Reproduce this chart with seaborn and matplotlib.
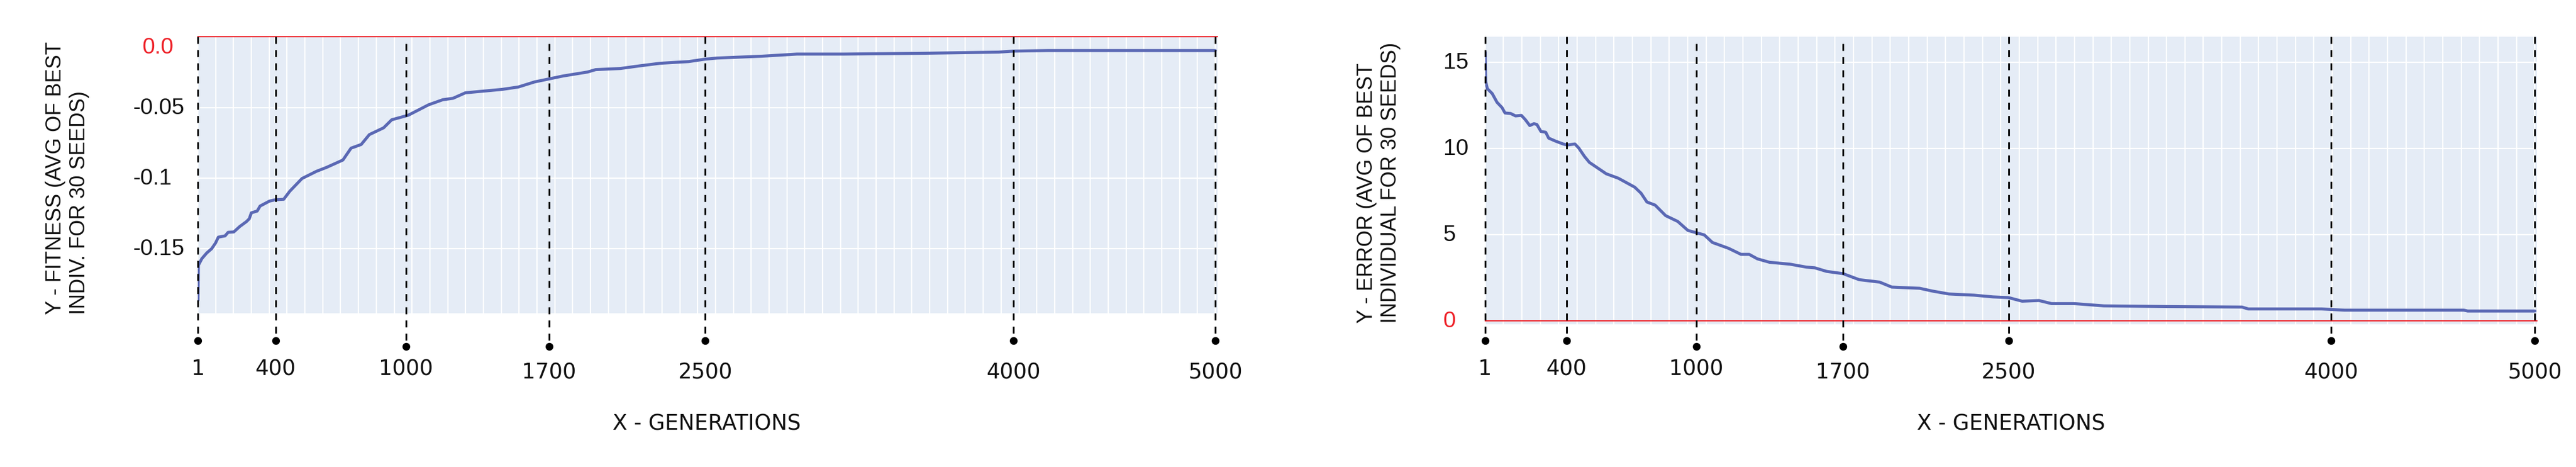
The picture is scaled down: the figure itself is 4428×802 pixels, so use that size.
import numpy as np
import pandas as pd
import matplotlib
matplotlib.use("Agg")
import matplotlib.pyplot as plt
import matplotlib.transforms as mtrans
import seaborn as sns

# ---------------- data ----------------
fit_gen = [1, 3, 20, 44, 68, 87, 101, 134, 149, 177, 206, 239, 253, 263, 292, 306,
           352, 382, 422, 452, 512, 583, 633, 713, 753, 803, 843, 913, 953, 1034,
           1134, 1204, 1254, 1315, 1495, 1575, 1655, 1725, 1795, 1915, 1955, 2076,
           2173, 2272, 2412, 2492, 2552, 2772, 2944, 3175, 3575, 3935, 4007, 4177, 5000]
fit_val = [-0.1865, -0.1617, -0.157, -0.153, -0.150, -0.146, -0.1418, -0.1409, -0.1384,
           -0.1381, -0.1343, -0.1308, -0.1288, -0.1246, -0.1233, -0.1198, -0.1163,
           -0.1153, -0.1150, -0.1093, -0.1003, -0.0952, -0.0924, -0.0872, -0.0788,
           -0.0762, -0.0692, -0.0644, -0.0587, -0.0555, -0.0481, -0.0445, -0.0435,
           -0.0396, -0.0372, -0.0355, -0.0319, -0.0298, -0.0277, -0.0249, -0.0232,
           -0.0224, -0.0205, -0.0187, -0.0175, -0.0158, -0.0150, -0.0137, -0.0122,
           -0.0122, -0.0116, -0.0108, -0.0101, -0.0097, -0.0097]

err_gen = [1, 3, 11, 34, 57, 81, 95, 122, 145, 173, 192, 213, 233, 247, 266, 289, 303,
           335, 372, 391, 428, 446, 474, 497, 577, 635, 713, 743, 771, 810, 860, 918,
           966, 1044, 1083, 1160, 1219, 1258, 1297, 1355, 1452, 1530, 1570, 1627, 1705,
           1782, 1879, 1937, 2070, 2130, 2209, 2329, 2419, 2493, 2558, 2638, 2698, 2807,
           2947, 3246, 3605, 3635, 3984, 4093, 4661, 4680, 5000]
err_val = [15.6, 13.9, 13.47, 13.19, 12.68, 12.37, 12.06, 12.03, 11.89, 11.92, 11.67,
           11.33, 11.44, 11.39, 10.99, 10.94, 10.60, 10.43, 10.26, 10.20, 10.26, 10.03,
           9.53, 9.19, 8.53, 8.27, 7.75, 7.40, 6.89, 6.71, 6.10, 5.76, 5.24, 4.98, 4.54,
           4.20, 3.85, 3.85, 3.59, 3.39, 3.28, 3.11, 3.07, 2.86, 2.73, 2.38, 2.24, 1.95,
           1.88, 1.72, 1.55, 1.48, 1.38, 1.34, 1.13, 1.17, 0.99, 0.99, 0.86, 0.82, 0.79,
           0.68, 0.68, 0.61, 0.61, 0.56, 0.56]

gen_labels = ["1", "400", "1000", "1700", "2500", "4000", "5000"]
fit_marker_gen = [1, 382, 1022, 1726, 2492, 4009, 5000]
err_marker_gen = [1, 388, 1007, 1705, 2493, 4028, 5000]

fit_yticks = [-0.05, -0.1, -0.15]
fit_ytick_labels = ["-0.05", "-0.1", "-0.15"]
fit_target, fit_target_label = 0.0, "0.0"
err_yticks = [5, 10, 15]
err_ytick_labels = ["5", "10", "15"]
err_target, err_target_label = 0, "0"

x_title = "X - GENERATIONS"
fit_y_title = "Y - FITNESS (AVG OF BEST\nINDIV. FOR 30 SEEDS)"
err_y_title = "Y - ERROR (AVG OF BEST\nINDIVIDUAL FOR 30 SEEDS)"

# ---------------- styling ----------------
W, H = 4428, 803
BG = "#e5ecf6"
LINE = "#5a68b4"
RED = "#ee2229"
TXT = "#111111"
ARIAL = ["Liberation Sans", "DejaVu Sans"]

sns.set_style("white")
plt.rcParams["font.family"] = ["DejaVu Sans"]

fig = plt.figure(figsize=(W / 100, H / 100), dpi=100)
fig.patch.set_facecolor("white")


def fy(px):
    return 1 - px / H


def fx(px):
    return px / W


def make_axes(x0, x1, y0, y1):
    return fig.add_axes([fx(x0), fy(y1), fx(x1) - fx(x0), (y1 - y0) / H])


ax1 = make_axes(340, 2092.6, 64.3, 539)
ax2 = make_axes(2552.7, 4361, 64.3, 557.7)

grid_x = np.arange(0, 5001, 5000 / 57)

panels = [
    dict(ax=ax1, gen=fit_gen, val=fit_val, ylim=(-0.1957, 0.0), yt=fit_yticks,
         ytl=fit_ytick_labels, target=fit_target, tlabel=fit_target_label,
         mgen=fit_marker_gen, lab_x=228, zero_x=245, ytitle=fit_y_title,
         ytitle_x=116, ytitle_y=540, xtitle_x=1215, zero_va="top"),
    dict(ax=ax2, gen=err_gen, val=err_val, ylim=(-0.203, 16.48), yt=err_yticks,
         ytl=err_ytick_labels, target=err_target, tlabel=err_target_label,
         mgen=err_marker_gen, lab_x=2480.6, zero_x=2480.6, ytitle=err_y_title,
         ytitle_x=2370, ytitle_y=555.5, xtitle_x=3457, zero_va="center"),
]

for p in panels:
    ax = p["ax"]
    ax.set_facecolor(BG)
    df = pd.DataFrame({"gen": p["gen"], "val": p["val"]})
    sns.lineplot(data=df, x="gen", y="val", ax=ax, color=LINE, lw=3.7,
                 estimator=None, sort=False, zorder=3)
    ax.set_xlim(1, 5010)
    ax.set_ylim(*p["ylim"])
    ax.set_xticks(grid_x)
    ax.set_yticks(p["yt"])
    ax.grid(True, axis="both", color="white", lw=1.6, zorder=0)
    ax.set_axisbelow(True)
    ax.tick_params(length=0, labelbottom=False, labelleft=False)
    for s in ax.spines.values():
        s.set_visible(False)
    ax.set_xlabel("")
    ax.set_ylabel("")

    # red target line
    ax.axhline(p["target"], color=RED, lw=1.5, zorder=4, clip_on=False)

    # y tick labels
    ytr = mtrans.blended_transform_factory(fig.transFigure, ax.transData)
    for v, lab in zip(p["yt"], p["ytl"]):
        fig.text(fx(p["lab_x"]), v, lab, transform=ytr, ha="left", va="center",
                 fontsize=28, family=ARIAL, color=TXT)
    fig.text(fx(p["zero_x"]), p["target"], p["tlabel"], transform=ytr, ha="left",
             va=p["zero_va"], fontsize=28, family=ARIAL, color=RED)

    # dashed marker lines with dots and labels
    xtr = mtrans.blended_transform_factory(ax.transData, fig.transFigure)
    for i, (g, lab) in enumerate(zip(p["mgen"], gen_labels)):
        low = i in (2, 3)
        y_top = 75.8 if low else 64.3
        y_dot = 595.7 if low else 585.7
        y_lab = 634 if i < 3 else 640
        ax.plot([g, g], [fy(y_top), fy(y_dot)], transform=xtr, color="black",
                lw=2.2, dashes=(3.9, 3.5), clip_on=False, zorder=5)
        ax.plot([g], [fy(y_dot)], transform=xtr, marker="o", ms=8.6,
                color="black", clip_on=False, zorder=6)
        t = fig.text(0, fy(y_lab), lab, transform=xtr, fontsize=26.5, ha="center",
                     va="center", color=TXT, family=["DejaVu Sans"])
        t.set_x(g)

    # titles
    fig.text(fx(p["ytitle_x"]), fy(p["ytitle_y"]), p["ytitle"], rotation=90,
             ha="center", va="bottom", multialignment="left", fontsize=26,
             family=ARIAL, color=TXT, linespacing=1.2)
    fig.text(fx(p["xtitle_x"]), fy(728), x_title, ha="center", va="center",
             fontsize=26.5, color=TXT, family=["DejaVu Sans"])

fig.savefig("out.png", dpi=100, facecolor="white")
